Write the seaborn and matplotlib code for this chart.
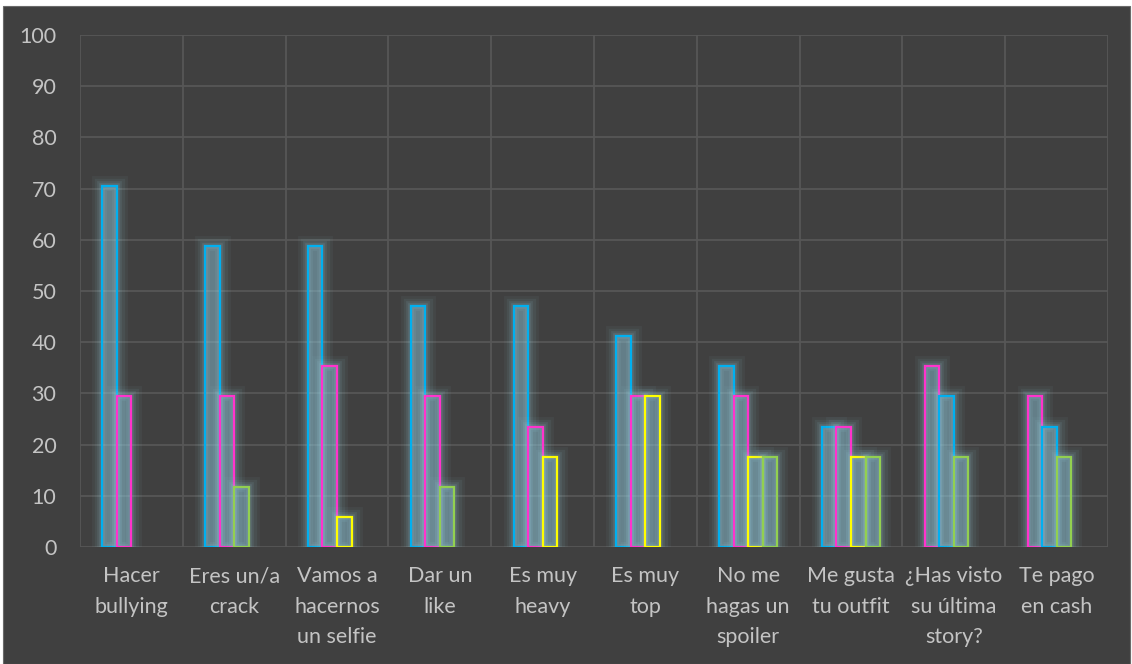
import numpy as np
import pandas as pd
import matplotlib
matplotlib.use("Agg")
import matplotlib.pyplot as plt
import matplotlib.patheffects as pe
from matplotlib.patches import Rectangle
import seaborn as sns

# Survey results (% of respondents) for each expression
categories = [
    "Hacer\nbullying", "Eres un/a\ncrack", "Vamos a\nhacernos\nun selfie",
    "Dar un\nlike", "Es muy\nheavy", "Es muy\ntop", "No me\nhagas un\nspoiler",
    "Me gusta\ntu outfit", "¿Has visto\nsu última\nstory?", "Te pago\nen cash",
]
blue = [70.6, 58.8, 58.8, 47.1, 47.1, 41.2, 35.3, 23.5, 29.4, 23.5]
magenta = [29.4, 29.4, 35.3, 29.4, 23.5, 29.4, 29.4, 23.5, 35.3, 29.4]
yellow = [None, None, 5.9, None, 17.6, 29.4, 17.6, 17.6, None, None]
green = [None, 11.8, None, 11.8, None, None, 17.6, 17.6, 17.6, 17.6]

series = {"blue": blue, "magenta": magenta, "yellow": yellow, "green": green}
palette = {"blue": "#00B0F0", "magenta": "#FF33CC", "yellow": "#FFFF00", "green": "#92D050"}
y_ticks = list(range(0, 101, 10))

# Within each category, bars are ranked from the highest to the lowest value
rows = []
for i, cat in enumerate(categories):
    vals = [(name, vals[i]) for name, vals in series.items() if vals[i] is not None]
    vals = sorted(vals, key=lambda t: -t[1])
    for rank, (name, v) in enumerate(vals):
        rows.append({"category": cat, "rank": rank, "series": name, "value": v})
df = pd.DataFrame(rows)

BG = "#404040"
GRID = "#575757"
TEXT = "#C4C4C4"

sns.set_theme(style="dark")
plt.rcParams["font.family"] = ["Lato", "DejaVu Sans"]

fig = plt.figure(figsize=(11.32, 6.64), dpi=100, facecolor="white")
frame = Rectangle((3 / 1132, 0), 1127 / 1132, 658 / 664,
                  transform=fig.transFigure, facecolor=BG,
                  edgecolor="#6a6a6a", linewidth=0.8, zorder=-10)
fig.patches.append(frame)
ax = fig.add_axes([80 / 1132, 1 - 547 / 664, 1028 / 1132, 512 / 664])
ax.set_facecolor(BG)

sns.barplot(data=df, x="category", y="value", hue="rank", order=categories,
            hue_order=[0, 1, 2, 3], width=0.565, dodge=True, ax=ax,
            legend=False, errorbar=None, saturation=1)

glow = [
    pe.Stroke(linewidth=15, foreground="#98cfdc", alpha=0.05),
    pe.Stroke(linewidth=11, foreground="#98cfdc", alpha=0.07),
    pe.Stroke(linewidth=7, foreground="#98cfdc", alpha=0.10),
    pe.Stroke(linewidth=4, foreground="#98cfdc", alpha=0.13),
    pe.Normal(),
]

# Colour each bar by the series it belongs to
for rank, container in enumerate(ax.containers):
    sub = df[df["rank"] == rank].set_index("category")
    present = [c for c in categories if c in sub.index]
    for bar, cat in zip(container.patches, present):
        name = sub.loc[cat, "series"]
        bar.set_facecolor((0.55, 0.77, 0.85, 0.15))
        bar.set_edgecolor(palette[name])
        bar.set_linewidth(1.6)
        bar.set_path_effects(glow)
        bar.set_zorder(3)

ax.set_ylim(0, 100)
ax.set_xlim(-0.5, len(categories) - 0.5)
ax.set_yticks(y_ticks)
ax.set_xticks(np.arange(len(categories) + 1) - 0.5, minor=True)
ax.grid(False)
ax.yaxis.grid(True, color=GRID, linewidth=1.3, zorder=0)
ax.xaxis.grid(True, which="minor", color=GRID, linewidth=1.3, zorder=0)
ax.set_axisbelow(True)
for s in ax.spines.values():
    s.set_visible(False)

ax.tick_params(axis="y", length=0, pad=17, labelsize=15.5, labelcolor=TEXT)
ax.tick_params(axis="x", which="both", length=0, pad=14, labelsize=15.5, labelcolor=TEXT)
for lab in ax.get_xticklabels():
    lab.set_horizontalalignment("center")
    lab.set_multialignment("center")
    lab.set_linespacing(1.65)
ax.set_xlabel("")
ax.set_ylabel("")

fig.savefig("out.png", dpi=100, facecolor="white")
